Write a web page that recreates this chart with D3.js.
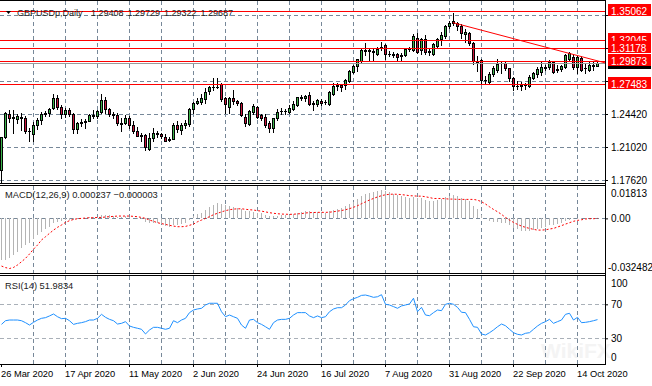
<!DOCTYPE html>
<html><head><meta charset="utf-8">
<script src="https://cdn.jsdelivr.net/npm/d3@7/dist/d3.min.js"></script>
<style>
html,body{margin:0;padding:0;background:#fff;}
svg{display:block;font-family:"Liberation Sans",Arial,sans-serif;}
</style></head><body>
<svg id="chart" width="652" height="386"></svg>
<script>
// ---------------- DATA ----------------
const symbolLabel = "GBPUSDp,Daily";
const dateTickLabels = ["26 Mar 2020","17 Apr 2020","11 May 2020","2 Jun 2020","24 Jun 2020","16 Jul 2020","7 Aug 2020","31 Aug 2020","22 Sep 2020","14 Oct 2020"];
const priceTicks = [1.17620,1.21020,1.24420,1.27820,1.31220,1.34620];
const hiddenPriceLabels = [1.27820,1.31220];   // covered by level boxes in the reference
const levelLines = [1.35062,1.32045,1.31178,1.29873,1.27483];
const bidPrice = 1.29687;
const trendAnchors = [[113,1.3383],[141,1.3078]];
const macdTicks = [0.01813,0,-0.032482];
const macdTickLabels = ["0.01813","0.00","-0.032482"];
const rsiTicks = [100,70,30,0];

const openP = [
1.1868,1.2210,1.2445,1.2405,1.2395,1.2400,1.2405,1.2262,1.2232,1.2330,
1.2380,1.2445,1.2452,1.2500,1.2610,1.2510,1.2445,1.2480,1.2440,1.2285,
1.2345,1.2355,1.2375,1.2430,1.2420,1.2465,1.2590,1.2490,1.2440,1.2432,
1.2345,1.2345,1.2405,1.2330,1.2265,1.2222,1.2225,1.2080,1.2190,1.2245,
1.2232,1.2210,1.2170,1.2182,1.2330,1.2278,1.2325,1.2335,1.2490,1.2560,
1.2570,1.2600,1.2680,1.2725,1.2720,1.2755,1.2602,1.2515,1.2602,1.2575,
1.2552,1.2414,1.2338,1.2458,1.2511,1.2430,1.2412,1.2345,1.2297,1.2398,
1.2470,1.2478,1.2463,1.2498,1.2535,1.2612,1.2605,1.2641,1.2550,1.2545,
1.2580,1.2565,1.2545,1.2648,1.2735,1.2742,1.2740,1.2782,1.2878,1.2937,
1.2991,1.3095,1.3100,1.3090,1.3060,1.3130,1.3150,1.3060,1.3065,1.3060,
1.3035,1.3050,1.3108,1.3101,1.3224,1.3101,1.3214,1.3084,1.3060,1.3146,
1.3216,1.3245,1.3350,1.3397,1.3380,1.3350,1.3270,1.3279,1.3170,1.2983,
1.3000,1.2792,1.2775,1.2850,1.2895,1.2965,1.2968,1.2912,1.2810,1.2735,
1.2732,1.2740,1.2730,1.2818,1.2854,1.2878,1.2929,1.2929,1.2981,1.2895,
1.2902,1.2929,1.3005,1.3033,1.2929,1.3019,1.2912,1.2895,1.2946,1.29408];
const highP = [
1.2210,1.2466,1.2480,1.2485,1.2440,1.2450,1.2425,1.2295,1.2355,1.2400,
1.2460,1.2475,1.2505,1.2650,1.2640,1.2535,1.2500,1.2500,1.2450,1.2360,
1.2390,1.2390,1.2440,1.2485,1.2485,1.2645,1.2615,1.2500,1.2460,1.2450,
1.2400,1.2430,1.2425,1.2370,1.2305,1.2250,1.2235,1.2245,1.2295,1.2270,
1.2245,1.2240,1.2205,1.2350,1.2365,1.2350,1.2385,1.2500,1.2570,1.2610,
1.2645,1.2710,1.2735,1.2810,1.2815,1.2765,1.2620,1.2620,1.2690,1.2590,
1.2570,1.2440,1.2480,1.2540,1.2520,1.2445,1.2440,1.2370,1.2405,1.2490,
1.2500,1.2495,1.2530,1.2575,1.2620,1.2640,1.2640,1.2670,1.2580,1.2600,
1.2600,1.2590,1.2680,1.2760,1.2765,1.2755,1.2800,1.2900,1.2950,1.3010,
1.3110,1.3175,1.3125,1.3110,1.3130,1.3185,1.3160,1.3095,1.3085,1.3075,
1.3075,1.3120,1.3130,1.3265,1.3275,1.3225,1.3260,1.3120,1.3175,1.3230,
1.3285,1.3360,1.3400,1.3482,1.3395,1.3370,1.3320,1.3285,1.3185,1.3035,
1.3010,1.2835,1.2870,1.2935,1.3005,1.2985,1.2990,1.2920,1.2820,1.2785,
1.2770,1.2765,1.2845,1.2875,1.2925,1.2975,1.2950,1.2995,1.2990,1.2945,
1.2945,1.3060,1.3080,1.3045,1.3040,1.3040,1.2960,1.2990,1.2985,1.29729];
const lowP = [
1.1745,1.2190,1.2355,1.2245,1.2345,1.2280,1.2245,1.2165,1.2160,1.2285,
1.2340,1.2425,1.2420,1.2490,1.2490,1.2405,1.2410,1.2420,1.2250,1.2250,
1.2320,1.2300,1.2365,1.2405,1.2400,1.2455,1.2455,1.2420,1.2400,1.2330,
1.2265,1.2335,1.2295,1.2250,1.2215,1.2165,1.2075,1.2075,1.2165,1.2200,
1.2190,1.2160,1.2160,1.2180,1.2260,1.2240,1.2300,1.2315,1.2455,1.2540,
1.2545,1.2560,1.2650,1.2690,1.2705,1.2575,1.2450,1.2450,1.2540,1.2530,
1.2425,1.2320,1.2330,1.2440,1.2405,1.2380,1.2310,1.2255,1.2255,1.2380,
1.2440,1.2445,1.2450,1.2480,1.2520,1.2590,1.2580,1.2535,1.2480,1.2520,
1.2530,1.2540,1.2535,1.2640,1.2690,1.2675,1.2700,1.2770,1.2860,1.2890,
1.2975,1.3055,1.2985,1.2985,1.3045,1.3100,1.3005,1.3040,1.3025,1.3000,
1.3000,1.3040,1.3090,1.3095,1.3070,1.3060,1.3065,1.3055,1.3050,1.3130,
1.3150,1.3230,1.3325,1.3355,1.3305,1.3230,1.3185,1.3150,1.2960,1.2880,
1.2765,1.2765,1.2760,1.2830,1.2870,1.2860,1.2900,1.2780,1.2690,1.2700,
1.2685,1.2695,1.2725,1.2800,1.2820,1.2845,1.2900,1.2910,1.2865,1.2870,
1.2880,1.2915,1.2995,1.2905,1.2865,1.2880,1.2865,1.2885,1.2900,1.29322];
const closeP = [
1.2202,1.2449,1.2405,1.2410,1.2420,1.2410,1.2268,1.2262,1.2330,1.2380,
1.2445,1.2452,1.2495,1.2610,1.2510,1.2445,1.2480,1.2445,1.2290,1.2345,
1.2355,1.2375,1.2430,1.2425,1.2470,1.2590,1.2490,1.2445,1.2432,1.2345,
1.2340,1.2405,1.2330,1.2265,1.2220,1.2218,1.2100,1.2190,1.2245,1.2232,
1.2215,1.2165,1.2180,1.2330,1.2285,1.2325,1.2348,1.2490,1.2560,1.2575,
1.2610,1.2670,1.2725,1.2722,1.2725,1.2595,1.2545,1.2602,1.2572,1.2555,
1.2435,1.2346,1.2472,1.2522,1.2416,1.2400,1.2330,1.2297,1.2398,1.2465,
1.2475,1.2468,1.2505,1.2550,1.2612,1.2605,1.2625,1.2548,1.2555,1.2587,
1.2560,1.2570,1.2665,1.2730,1.2740,1.2722,1.2792,1.2885,1.2937,1.3005,
1.3101,1.3100,1.3095,1.3085,1.3108,1.3120,1.3060,1.3065,1.3045,1.3026,
1.3050,1.3108,1.3115,1.3249,1.3084,1.3214,1.3084,1.3088,1.3163,1.3214,
1.3260,1.3350,1.3375,1.3382,1.3350,1.3281,1.3285,1.3170,1.2983,1.2975,
1.2792,1.2796,1.2850,1.2912,1.2960,1.2968,1.2912,1.2809,1.2735,1.2730,
1.2740,1.2745,1.2820,1.2867,1.2902,1.2929,1.2920,1.2981,1.2878,1.2905,
1.2936,1.3050,1.3067,1.2929,1.3026,1.2900,1.2915,1.2946,1.2940,1.29687];

const macdMain = [
-0.0270,-0.0268,-0.0259,-0.0238,-0.0216,-0.0194,-0.0175,-0.0158,-0.0132,-0.0110,
-0.0088,-0.0071,-0.0054,-0.0032,-0.0024,-0.0017,-0.0012,-0.0008,-0.0008,-0.0003,
0.0001,0.0003,0.0006,0.0009,0.0011,0.0020,0.0022,0.0020,0.0017,0.0011,
0.0010,0.0013,0.0010,0.0004,-0.0002,-0.0007,-0.0022,-0.0027,-0.0028,-0.0032,
-0.0037,-0.0050,-0.0054,-0.0044,-0.0043,-0.0039,-0.0032,-0.0008,0.0014,0.0026,
0.0037,0.0054,0.0071,0.0086,0.0097,0.0095,0.0085,0.0080,0.0076,0.0070,
0.0060,0.0048,0.0045,0.0043,0.0038,0.0033,0.0025,0.0018,0.0016,0.0018,
0.0020,0.0022,0.0025,0.0030,0.0038,0.0042,0.0048,0.0045,0.0043,0.0042,
0.0040,0.0038,0.0045,0.0055,0.0063,0.0068,0.0077,0.0092,0.0108,0.0125,
0.0145,0.0158,0.0166,0.0172,0.0178,0.01813,0.0175,0.0168,0.0160,0.0150,
0.0143,0.0138,0.0133,0.0140,0.0135,0.0130,0.0118,0.0110,0.0112,0.0120,
0.0128,0.0140,0.0148,0.0150,0.0145,0.0135,0.0128,0.0110,0.0080,0.0058,
0.0025,0.0000,-0.0015,-0.0022,-0.0025,-0.0027,-0.0032,-0.0045,-0.0062,-0.0072,
-0.0080,-0.0085,-0.0082,-0.0078,-0.0070,-0.0064,-0.0055,-0.0045,-0.0042,-0.0037,
-0.0030,-0.0018,-0.0008,-0.0007,-0.0003,-0.0004,-0.0004,0.0000,0.0001,0.000237];
const macdSignal = [
-0.0309,-0.0319,-0.032482,-0.0318,-0.0302,-0.0281,-0.0259,-0.0231,-0.0199,-0.0173,
-0.0140,-0.0119,-0.0097,-0.0076,-0.0058,-0.0043,-0.0026,-0.0015,-0.0007,-0.0002,
0.0000,0.0002,0.0004,0.0004,0.0006,0.0006,0.0009,0.0011,0.0013,0.0015,
0.0015,0.0015,0.0015,0.0013,0.0011,0.0006,0.0000,-0.0011,-0.0019,-0.0028,
-0.0034,-0.0039,-0.0045,-0.0050,-0.0054,-0.0054,-0.0052,-0.0045,-0.0037,-0.0022,
-0.0011,0.0000,0.0011,0.0024,0.0033,0.0042,0.0050,0.0056,0.0060,0.0062,
0.0062,0.0059,0.0056,0.0054,0.0050,0.0047,0.0042,0.0037,0.0033,0.0030,
0.0028,0.0027,0.0026,0.0027,0.0029,0.0031,0.0035,0.0037,0.0038,0.0039,
0.0039,0.0039,0.0040,0.0043,0.0047,0.0051,0.0056,0.0063,0.0072,0.0082,
0.0095,0.0107,0.0119,0.0129,0.0139,0.0147,0.0153,0.0156,0.0157,0.0156,
0.0154,0.0151,0.0147,0.0146,0.0144,0.0144,0.0140,0.0135,0.0129,0.0129,
0.0129,0.0127,0.0125,0.0125,0.0123,0.0123,0.0123,0.0123,0.0123,0.0118,
0.0108,0.0093,0.0075,0.0058,0.0043,0.0026,0.0006,-0.0011,-0.0026,-0.0039,
-0.0050,-0.0058,-0.0065,-0.0071,-0.0076,-0.0076,-0.0074,-0.0069,-0.0065,-0.0056,
-0.0047,-0.0037,-0.0028,-0.0019,-0.0013,-0.0009,-0.0004,-0.0002,-0.0002,-0.000003];
const rsiValues = [
46.4,50.7,51.5,51.5,51.5,50.7,48.4,45.6,48.8,51.5,
53.5,54.3,56.3,58.6,55.4,53.1,53.5,50.7,46.4,47.6,
48.4,49.6,51.5,51.5,53.5,58.2,54.7,52.3,50.7,46.8,
47.6,49.6,44.5,42.9,41.8,40.6,35.1,39.8,42.9,42.9,
41.8,40.6,41.8,50.7,48.4,51.5,53.5,60.2,63.3,64.5,
65.3,69.2,71.2,71.2,71.2,61.3,55.4,57.4,55.4,53.5,
45.6,41.8,51.5,52.3,48.4,46.4,43.6,40.6,48.4,51.5,
52.3,52.3,53.5,57.4,60.2,60.2,60.2,56.3,54.3,56.3,
54.3,55.4,61.3,64.5,66.0,66.0,69.2,74.3,76.6,78.2,
80.5,80.9,79.7,78.2,78.9,81.3,70.0,69.2,67.3,65.3,
68.1,69.2,70.4,77.1,61.3,66.4,57.4,56.6,60.2,63.3,
62.5,70.0,71.2,70.0,66.4,60.6,60.2,52.3,43.6,42.9,
35.1,33.9,36.6,39.8,43.6,46.8,44.8,40.6,36.6,34.7,
33.9,35.9,36.6,40.6,44.5,47.6,49.6,52.3,47.6,49.6,
51.5,58.2,59.4,51.5,54.7,48.4,48.8,49.6,50.7,51.9834];

// ---------------- DRAWING ----------------
const svg = d3.select('#chart');
const n = closeP.length;
const idx = d3.range(n);
const PR = 605;           // right edge of plot area (axis line)
const px = v => Math.round(v) + 0.5;

const x  = d3.scaleLinear().domain([0, n - 1]).range([1, 597]);
const yP = d3.scaleLinear().domain([1.17620, 1.34620]).range([180, 15]);
const yM = d3.scaleLinear().domain([-0.032482, 0.01813]).range([268.5, 190.4]);
const yR = d3.scaleLinear().domain([0, 100]).range([363.8, 278.8]);

const panels = [
  {id:'cMain', y0:1,   y1:183},
  {id:'cMacd', y0:186, y1:273},
  {id:'cRsi',  y0:276, y1:364}
];
const GRID = '#778899';
const DASH = '4,3';

svg.append('rect').attr('width',652).attr('height',386).attr('fill','#fff');
const defs = svg.append('defs');
panels.forEach(p => defs.append('clipPath').attr('id', p.id)
  .append('rect').attr('x',0).attr('y',p.y0).attr('width',PR).attr('height',p.y1-p.y0));
defs.append('clipPath').attr('id','cTopLbl').append('rect').attr('x',PR).attr('y',16).attr('width',50).attr('height',10);

// watermark
svg.append('text').attr('x',541).attr('y',358).text('WikiFX')
  .attr('font-size',21).attr('font-weight','bold').attr('fill','#f4f4f4');

// vertical grid
const gridIdx = d3.range(8, n, 8);
panels.forEach(p => {
  svg.append('g').selectAll('line').data(gridIdx).join('line')
    .attr('x1', i => px(x(i))).attr('x2', i => px(x(i)))
    .attr('y1', p.y0).attr('y2', p.y1)
    .attr('stroke', GRID).attr('stroke-dasharray', DASH);
});
// horizontal grids
svg.append('g').selectAll('line').data(priceTicks).join('line')
  .attr('x1',0).attr('x2',PR).attr('y1',d=>px(yP(d))).attr('y2',d=>px(yP(d)))
  .attr('stroke',GRID).attr('stroke-dasharray',DASH);
svg.append('line').attr('x1',0).attr('x2',PR).attr('y1',px(yM(0))).attr('y2',px(yM(0)))
  .attr('stroke',GRID).attr('stroke-dasharray',DASH);
svg.append('g').selectAll('line').data([70,30]).join('line')
  .attr('x1',0).attr('x2',PR).attr('y1',d=>px(yR(d))).attr('y2',d=>px(yR(d)))
  .attr('stroke','#a9b0b8').attr('stroke-dasharray',DASH);

// candles
const gC = svg.append('g').attr('clip-path','url(#cMain)');
const BULL = '#3cb44b', BEAR = '#c8143c';
gC.selectAll('line.w').data(idx).join('line').attr('class','w')
  .attr('x1', i => px(x(i))).attr('x2', i => px(x(i)))
  .attr('y1', i => Math.round(yP(highP[i]))).attr('y2', i => Math.round(yP(lowP[i])) + 1)
  .attr('stroke','#000');
gC.selectAll('rect.b').data(idx.filter(i => Math.round(yP(openP[i])) !== Math.round(yP(closeP[i]))))
  .join('rect').attr('class','b')
  .attr('x', i => Math.round(x(i)) - 0.5)
  .attr('y', i => px(yP(Math.max(openP[i], closeP[i]))))
  .attr('width', 2)
  .attr('height', i => Math.round(yP(Math.min(openP[i], closeP[i]))) - Math.round(yP(Math.max(openP[i], closeP[i]))))
  .attr('fill', i => closeP[i] >= openP[i] ? BULL : BEAR)
  .attr('stroke','#000');
gC.selectAll('line.d').data(idx.filter(i => Math.round(yP(openP[i])) === Math.round(yP(closeP[i]))))
  .join('line').attr('class','d')
  .attr('x1', i => Math.round(x(i)) - 1).attr('x2', i => Math.round(x(i)) + 2)
  .attr('y1', i => px(yP(closeP[i]))).attr('y2', i => px(yP(closeP[i])))
  .attr('stroke','#000');

// level lines, bid line, trend line
const gO = svg.append('g').attr('clip-path','url(#cMain)');
gO.append('line').attr('x1',0).attr('x2',PR).attr('y1',px(yP(bidPrice))).attr('y2',px(yP(bidPrice)))
  .attr('stroke','#9a9a9a');
gO.selectAll('line.lv').data(levelLines).join('line').attr('class','lv')
  .attr('x1',0).attr('x2',PR).attr('y1',d=>px(yP(d))).attr('y2',d=>px(yP(d)))
  .attr('stroke','#ff0000');
{
  const [a, b] = trendAnchors;
  const x1 = x(a[0]), y1 = yP(a[1]), x2 = x(b[0]), y2 = yP(b[1]);
  const k = (y2 - y1) / (x2 - x1);
  gO.append('line').attr('x1', x1).attr('y1', y1).attr('x2', PR).attr('y2', y1 + k * (PR - x1))
    .attr('stroke','#ff0000').attr('stroke-width',1);
}

// MACD histogram + signal
const gM = svg.append('g').attr('clip-path','url(#cMacd)');
gM.selectAll('line').data(idx).join('line')
  .attr('x1', i => px(x(i))).attr('x2', i => px(x(i)))
  .attr('y1', Math.round(yM(0))).attr('y2', i => Math.round(yM(macdMain[i])))
  .attr('stroke','#b4b4b4');
gM.append('path').datum(idx)
  .attr('d', d3.line().x(i => x(i) + 0.5).y(i => yM(macdSignal[i])))
  .attr('fill','none').attr('stroke','#ff0000').attr('stroke-dasharray','2,2');

// RSI
const gR = svg.append('g').attr('clip-path','url(#cRsi)');
gR.append('path').datum(idx)
  .attr('d', d3.line().x(i => x(i) + 0.5).y(i => yR(rsiValues[i])))
  .attr('fill','none').attr('stroke','#1e90ff').attr('stroke-width',1);

// frames
const frame = svg.append('g').attr('stroke','#000').attr('fill','none');
[0.5,183.5,185.5,273.5,275.5,364.5].forEach(y =>
  frame.append('line').attr('x1',0).attr('x2',PR+1).attr('y1',y).attr('y2',y));
frame.append('line').attr('x1',PR+0.5).attr('x2',PR+0.5).attr('y1',0).attr('y2',365);

// axes
function styleAxis(g, fs){
  g.select('.domain').remove();
  g.selectAll('text').attr('font-size', fs).attr('fill','#000')
    .attr('font-family','"Liberation Sans",Arial,sans-serif');
  g.selectAll('line').attr('stroke','#000');
}
const axP = svg.append('g').attr('transform',`translate(${PR},0)`)
  .call(d3.axisRight(yP).tickValues(priceTicks).tickFormat(d3.format('.5f')).tickSize(3).tickPadding(3));
styleAxis(axP, 10);
axP.selectAll('.tick').filter(d => hiddenPriceLabels.includes(d)).select('text').remove();
axP.selectAll('.tick').filter(d => d === priceTicks[priceTicks.length-1]).select('text')
  .attr('clip-path','url(#cTopLbl)');

const axM = svg.append('g').attr('transform',`translate(${PR},0)`)
  .call(d3.axisRight(yM).tickValues(macdTicks).tickFormat((d,k)=>macdTickLabels[k]).tickSize(3).tickPadding(3));
styleAxis(axM, 10);
axM.selectAll('.tick').filter((d,k)=>k!==1).select('line').remove();
axM.selectAll('.tick text').attr('dy',(d,k)=> k===0 ? '0.62em' : (k===2 ? '0.2em' : '0.32em'));
axM.selectAll('.tick').filter((d,k)=>k===2).select('text').attr('x',3);

const axR = svg.append('g').attr('transform',`translate(${PR},0)`)
  .call(d3.axisRight(yR).tickValues(rsiTicks).tickFormat(d3.format('d')).tickSize(3).tickPadding(3));
styleAxis(axR, 10);
axR.selectAll('.tick').filter(d=>d===100||d===0).select('line').remove();
axR.selectAll('.tick text').attr('dy', d => d===100 ? '0.75em' : (d===0 ? '-0.3em' : '0.32em'));

const axD = svg.append('g').attr('transform','translate(0,364)')
  .call(d3.axisBottom(x).tickValues(d3.range(0, n, 16)).tickFormat((d,k)=>dateTickLabels[k]).tickSize(3).tickPadding(3));
styleAxis(axD, 9.3);
axD.selectAll('text').attr('text-anchor','start').attr('dx', -0.5);

// price label boxes (bid box is mostly covered, as in the reference)
const fmt5 = d3.format('.5f');
svg.append('rect').attr('x',PR+3).attr('y',Math.round(yP(bidPrice))-5).attr('width',43).attr('height',11).attr('fill','#000');
const lbl = svg.append('g').selectAll('g').data(levelLines).join('g');
lbl.append('rect').attr('x',PR+3).attr('y',d=>Math.round(yP(d))-7).attr('width',43).attr('height',12).attr('fill','#ff0000');
lbl.append('text').attr('x',PR+6).attr('y',d=>Math.round(yP(d))+3.5).text(d=>fmt5(d))
  .attr('fill','#fff').attr('font-size',10);

// header
const last = n - 1;
svg.append('path').attr('d','M6,11 L11,11 L8.5,14 Z').attr('fill','#000');
const hdr = svg.append('text').attr('y',16).attr('font-size',9).attr('fill','#222');
hdr.append('tspan').attr('x',17).text(symbolLabel);
[openP[last], highP[last], lowP[last], closeP[last]].forEach((v,k) =>
  hdr.append('tspan').attr('x', 91 + k*36.5).text(fmt5(v)));

// indicator labels
svg.append('text').attr('x',5).attr('y',198).attr('font-size',9.3).attr('fill','#222')
  .text(`MACD(12,26,9) ${d3.format('.6f')(macdMain[last])} ${d3.format('.6f')(macdSignal[last])}`);
svg.append('text').attr('x',5).attr('y',289).attr('font-size',9.3).attr('fill','#222')
  .text(`RSI(14) ${d3.format('.4f')(rsiValues[last])}`);
</script></body></html>
